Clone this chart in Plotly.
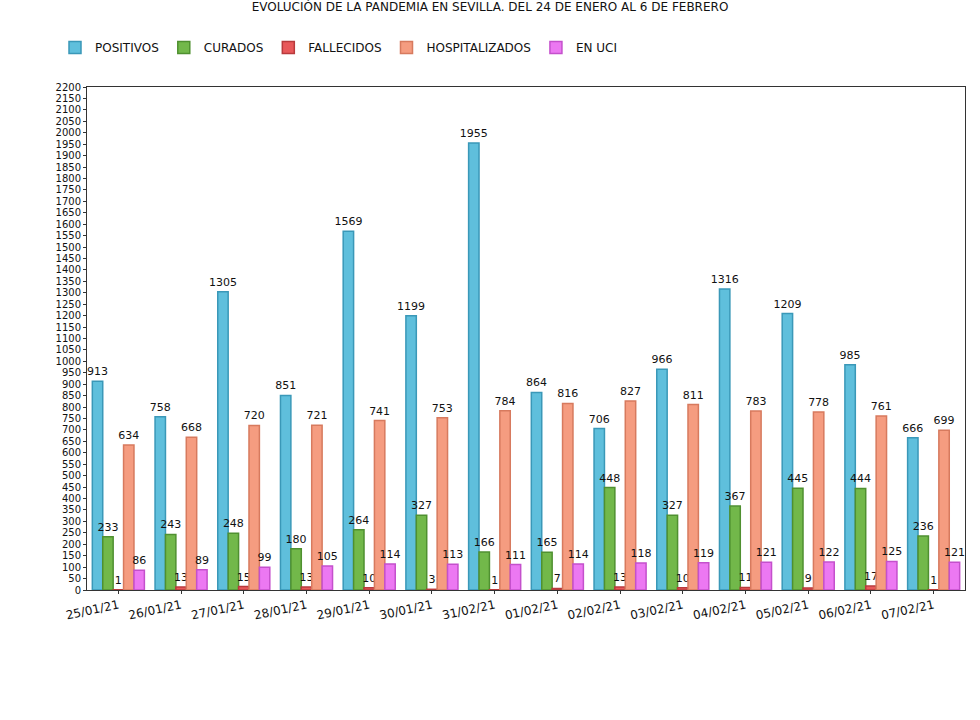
import plotly.graph_objects as go

fechas = ["25/01/21", "26/01/21", "27/01/21", "28/01/21", "29/01/21", "30/01/21", "31/02/21",
          "01/02/21", "02/02/21", "03/02/21", "04/02/21", "05/02/21", "06/02/21", "07/02/21"]
positivos = [913, 758, 1305, 851, 1569, 1199, 1955, 864, 706, 966, 1316, 1209, 985, 666]
curados = [233, 243, 248, 180, 264, 327, 166, 165, 448, 327, 367, 445, 444, 236]
fallecidos = [1, 13, 15, 13, 10, 3, 1, 7, 13, 10, 11, 9, 17, 1]
hospitalizados = [634, 668, 720, 721, 741, 753, 784, 816, 827, 811, 783, 778, 761, 699]
en_uci = [86, 89, 99, 105, 114, 113, 111, 114, 118, 119, 121, 122, 125, 121]

series = [
    ("POSITIVOS", positivos, "#5fbfdc", "#3a98b8"),
    ("CURADOS", curados, "#72b84a", "#4f9030"),
    ("FALLECIDOS", fallecidos, "#e8585a", "#b83a3c"),
    ("HOSPITALIZADOS", hospitalizados, "#f59c80", "#d77a5e"),
    ("EN UCI", en_uci, "#ec78f2", "#c450cc"),
]

FONT = "DejaVu Sans"
fig = go.Figure()
for name, vals, col, edge in series:
    fig.add_trace(go.Bar(
        name=name, x=fechas, y=vals,
        marker=dict(color=col, line=dict(color=edge, width=1.5)),
        text=[str(v) for v in vals], textposition="outside",
        textfont=dict(family=FONT, size=11, color="#111"),
        constraintext="none",
        cliponaxis=False,
    ))

fig.update_layout(
    width=980, height=720,
    paper_bgcolor="white", plot_bgcolor="white",
    margin=dict(l=87, r=15, t=87, b=130),
    barmode="group", bargap=0.17, bargroupgap=0.0,
    font=dict(family=FONT, size=11, color="#111"),
    title=dict(text="EVOLUCIÓN DE LA PANDEMIA EN SEVILLA. DEL 24 DE ENERO AL 6 DE FEBRERO",
               x=0.5, xanchor="center", y=0.997, yanchor="top", yref="container",
               font=dict(family=FONT, size=12, color="#111")),
    legend=dict(orientation="h", xref="container", yref="container",
                x=55 / 980, y=1 - 33 / 720, xanchor="left", yanchor="top",
                font=dict(family=FONT, size=12, color="#111"),
                itemwidth=30, traceorder="normal"),
    uniformtext=dict(mode=False),
)
fig.update_xaxes(showline=True, linecolor="#333", linewidth=1, mirror=True,
                 tickangle=-12, ticks="outside", ticklen=3, tickcolor="#333",
                 tickfont=dict(family=FONT, size=12), showgrid=False)
fig.update_yaxes(range=[0, 2200], dtick=50, showline=True, linecolor="#333", linewidth=1,
                 mirror=True, ticks="outside", ticklen=3, tickcolor="#333",
                 showgrid=False, zeroline=False, tickfont=dict(family=FONT, size=10))

fig.write_html("out.html")
